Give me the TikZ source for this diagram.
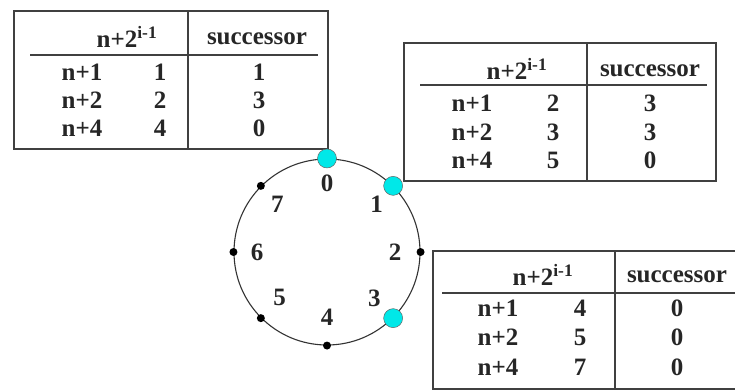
\documentclass[tikz,border=0pt]{standalone}
\usepackage{fontspec}
\setmainfont{Liberation Serif}
\usetikzlibrary{positioning,calc}
\definecolor{ringcyan}{RGB}{0,232,232}

\begin{document}
\begin{tikzpicture}[x=1pt,y=-1pt]

\tikzset{
  tbl/.style     = {draw=black!75, line width=1.5pt, inner sep=0pt, anchor=north west},
  headrule/.style= {draw=black!75, line width=1.5pt},
  cell/.style    = {font=\fontsize{25}{29}\selectfont\bfseries, text=black!85, inner sep=0pt},
  ringline/.style= {draw=black!80, line width=1.1pt},
  peer/.style    = {circle, fill=ringcyan, draw=black!60, line width=0.5pt,
                    minimum size=19pt, inner sep=0pt},
  idle/.style    = {circle, fill=black, minimum size=8pt, inner sep=0pt},
}
\useasboundingbox (0,0) rectangle (735,389);

% finger table of node 0
\node[tbl, minimum width=314pt, minimum height=138pt] (t0) at (13,10) {};
\draw[headrule] (188,10) -- (188,148);
\draw[headrule] (30,55) -- (318,55);
\node[cell] (t0a) at (127,37) {n+2\textsuperscript{i-1}};
\node[cell] (t0b) at (257,39) {successor};
\node[cell] (t0k1) at (82,72) {n+1};
\node[cell] (t0s1) at (160,72) {1};
\node[cell] (t0v1) at (259,72) {1};
\node[cell] (t0k2) at (82,100) {n+2};
\node[cell] (t0s2) at (160,100) {2};
\node[cell] (t0v2) at (259,100) {3};
\node[cell] (t0k3) at (82,128) {n+4};
\node[cell] (t0s3) at (160,128) {4};
\node[cell] (t0v3) at (259,128) {0};

% finger table of node 1
\node[tbl, minimum width=312pt, minimum height=138pt] (t1) at (403,42) {};
\draw[headrule] (587,42) -- (587,180);
\draw[headrule] (420,85) -- (707,85);
\node[cell] (t1a) at (517,69) {n+2\textsuperscript{i-1}};
\node[cell] (t1b) at (650,71) {successor};
\node[cell] (t1k1) at (472,103) {n+1};
\node[cell] (t1s1) at (553,103) {2};
\node[cell] (t1v1) at (650,103) {3};
\node[cell] (t1k2) at (472,132) {n+2};
\node[cell] (t1s2) at (553,132) {3};
\node[cell] (t1v2) at (650,132) {3};
\node[cell] (t1k3) at (472,160) {n+4};
\node[cell] (t1s3) at (553,160) {5};
\node[cell] (t1v3) at (650,160) {0};

% finger table of node 3
\node[tbl, minimum width=314pt, minimum height=138pt] (t3) at (432,250) {};
\draw[headrule] (615,250) -- (615,388);
\draw[headrule] (442,293) -- (746,293);
\node[cell] (t3a) at (543,275) {n+2\textsuperscript{i-1}};
\node[cell] (t3b) at (677,277) {successor};
\node[cell] (t3k1) at (498,308) {n+1};
\node[cell] (t3s1) at (580,308) {4};
\node[cell] (t3v1) at (677,308) {0};
\node[cell] (t3k2) at (498,337) {n+2};
\node[cell] (t3s2) at (580,337) {5};
\node[cell] (t3v2) at (677,337) {0};
\node[cell] (t3k3) at (498,367) {n+4};
\node[cell] (t3s3) at (580,367) {7};
\node[cell] (t3v3) at (677,367) {0};

% identifier ring
\node[circle, ringline, minimum size=186pt, inner sep=0pt] (ring) at (327,252) {};
\node[idle] (n2) at (ring.0) {};
\node[idle] (n4) at (ring.270) {};
\node[idle] (n5) at (ring.225) {};
\node[idle] (n6) at (ring.180) {};
\node[idle] (n7) at (ring.135) {};
\node[peer] (n0) at (ring.90) {};
\node[peer] (n1) at (ring.45) {};
\node[peer] (n3) at (ring.-45) {};
\node[cell] (l0) at ($(ring.center)+(90:69pt)$) {0};
\node[cell] (l1) at ($(ring.center)+(44:69pt)$) {1};
\node[cell] (l2) at ($(ring.center)+(0:68pt)$) {2};
\node[cell] (l3) at ($(ring.center)+(-44:66pt)$) {3};
\node[cell] (l4) at ($(ring.center)+(-90:65pt)$) {4};
\node[cell] (l5) at ($(ring.center)+(-136:66pt)$) {5};
\node[cell] (l6) at ($(ring.center)+(180:70pt)$) {6};
\node[cell] (l7) at ($(ring.center)+(136:69pt)$) {7};
\end{tikzpicture}
\end{document}
